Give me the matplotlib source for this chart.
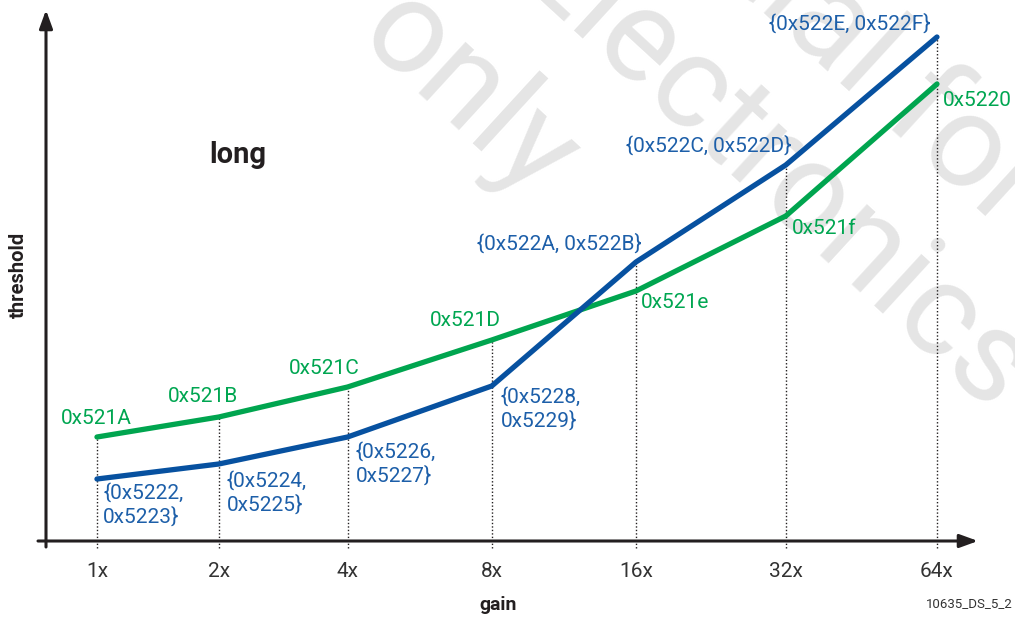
import numpy as np
import matplotlib.pyplot as plt

# --- data ---
gain_labels = ['1x', '2x', '4x', '8x', '16x', '32x', '64x']
# horizontal positions of the gain steps (the original spacing is not uniform)
gain_pos = np.array([0.0, 0.87, 1.79, 2.82, 3.85, 4.92, 6.0])

# threshold, arbitrary units (height above the gain axis)
green_vals = np.array([104, 124, 154, 201, 250, 325, 457])
blue_vals = np.array([62, 77, 104, 155, 279, 376, 504])

green_regs = ['0x521A', '0x521B', '0x521C', '0x521D', '0x521e', '0x521f', '0x5220']
blue_regs = ['{0x5222,\n0x5223}', '{0x5224,\n0x5225}', '{0x5226,\n0x5227}',
             '{0x5228,\n0x5229}', '{0x522A, 0x522B}', '{0x522C, 0x522D}',
             '{0x522E, 0x522F}']

GREEN_LINE = '#00a54f'
GREEN_TXT = '#00a651'
BLUE_LINE = '#0751a0'
BLUE_TXT = '#1d5fa9'
DARK = '#231f20'
WATERMARK = '#e5e5e5'

plt.rcParams['font.family'] = ['Roboto', 'DejaVu Sans']

W, H = 1015, 617
fig = plt.figure(figsize=(W / 100, H / 100), dpi=100)

# background layer for the watermark, in pixel coordinates
bg = fig.add_axes([0, 0, 1, 1], zorder=0)
bg.set_xlim(0, W)
bg.set_ylim(H, 0)
bg.axis('off')
wm = dict(color=WATERMARK, fontsize=95, rotation=-42.5,
          rotation_mode='anchor', va='baseline')
bg.text(354, 40, 'only', ha='left', **wm)
bg.text(988, 420, 'Electronics', ha='right', **wm)
bg.text(1002, 232, 'Confidential for', ha='right', **wm)

# main axes: left edge = y axis, bottom edge = x axis
AX_L, AX_R, AX_B, AX_T = 46, 978, 541, 10
ax = fig.add_axes([AX_L / W, (H - AX_B) / H, (AX_R - AX_L) / W, (AX_B - AX_T) / H], zorder=1)
ax.patch.set_visible(False)
ax.set_xlim(-0.364, 6.293)
ax.set_ylim(0, 531)
for s in ax.spines.values():
    s.set_visible(False)

# axis arrows
arrow = dict(arrowstyle='-|>,head_length=0.55,head_width=0.2', color=DARK, lw=2.2,
             mutation_scale=20, shrinkA=0, shrinkB=0)
ax.annotate('', xy=(1.0, 0), xytext=(-8 / 932, 0), xycoords='axes fraction',
            arrowprops=arrow, annotation_clip=False)
ax.annotate('', xy=(0, 1.0), xytext=(0, -6 / 531), xycoords='axes fraction',
            arrowprops=arrow, annotation_clip=False)

# dotted drop lines from the higher point to just under the axis
ax.vlines(gain_pos, -7, np.maximum(green_vals, blue_vals), colors=DARK,
          linestyles=(0, (1, 1.5)), lw=1, clip_on=False, zorder=1)

ax.plot(gain_pos, green_vals, color=GREEN_LINE, lw=3.8, solid_capstyle='round',
        solid_joinstyle='round', zorder=3)
ax.plot(gain_pos, blue_vals, color=BLUE_LINE, lw=3.8, solid_capstyle='round',
        solid_joinstyle='round', zorder=3)

# green labels: (dx, dy, ha, va) in pixels
green_off = [(-1, 18, 'center', 'center'), (-16, 20, 'center', 'center'),
             (-23, 18, 'center', 'center'), (-26, 20, 'center', 'center'),
             (5, -12, 'left', 'center'), (6, -13, 'left', 'center'),
             (6, -16, 'left', 'center')]
for x, y, t, (dx, dy, ha, va) in zip(gain_pos, green_vals, green_regs, green_off):
    ax.annotate(t, (x, y), xytext=(dx, dy), textcoords='offset pixels',
                ha=ha, va=va, color=GREEN_TXT, fontsize=15)

blue_off = [(6, -4, 'left', 'top'), (8, -7, 'left', 'top'),
            (8, -5, 'left', 'top'), (9, -1, 'left', 'top'),
            (6, 18, 'right', 'center'), (5, 19, 'right', 'center'),
            (-7, 13, 'right', 'center')]
for x, y, t, (dx, dy, ha, va) in zip(gain_pos, blue_vals, blue_regs, blue_off):
    ax.annotate(t, (x, y), xytext=(dx, dy), textcoords='offset pixels',
                ha=ha, va=va, color=BLUE_TXT, fontsize=15, linespacing=1.2)

ax.set_xticks(gain_pos, gain_labels)
ax.tick_params(axis='x', length=0, pad=15, labelsize=15, labelcolor='#333333')
ax.set_yticks([])

fig.text(498 / W, 1 - 605 / H, 'gain', ha='center', va='center',
         fontsize=14, fontweight='bold', color=DARK)
fig.text(18 / W, 1 - 275 / H, 'threshold', ha='center', va='center',
         rotation=90, fontsize=14.5, fontweight='bold', color=DARK)
fig.text(238 / W, 1 - 155 / H, 'long', ha='center', va='center',
         fontsize=21, fontweight='bold', color=DARK)
fig.text(1013 / W, 1 - 604 / H, '10635_DS_5_2', ha='right', va='center',
         fontsize=9.5, color='#333333')

fig.savefig('out.png', dpi=100)
